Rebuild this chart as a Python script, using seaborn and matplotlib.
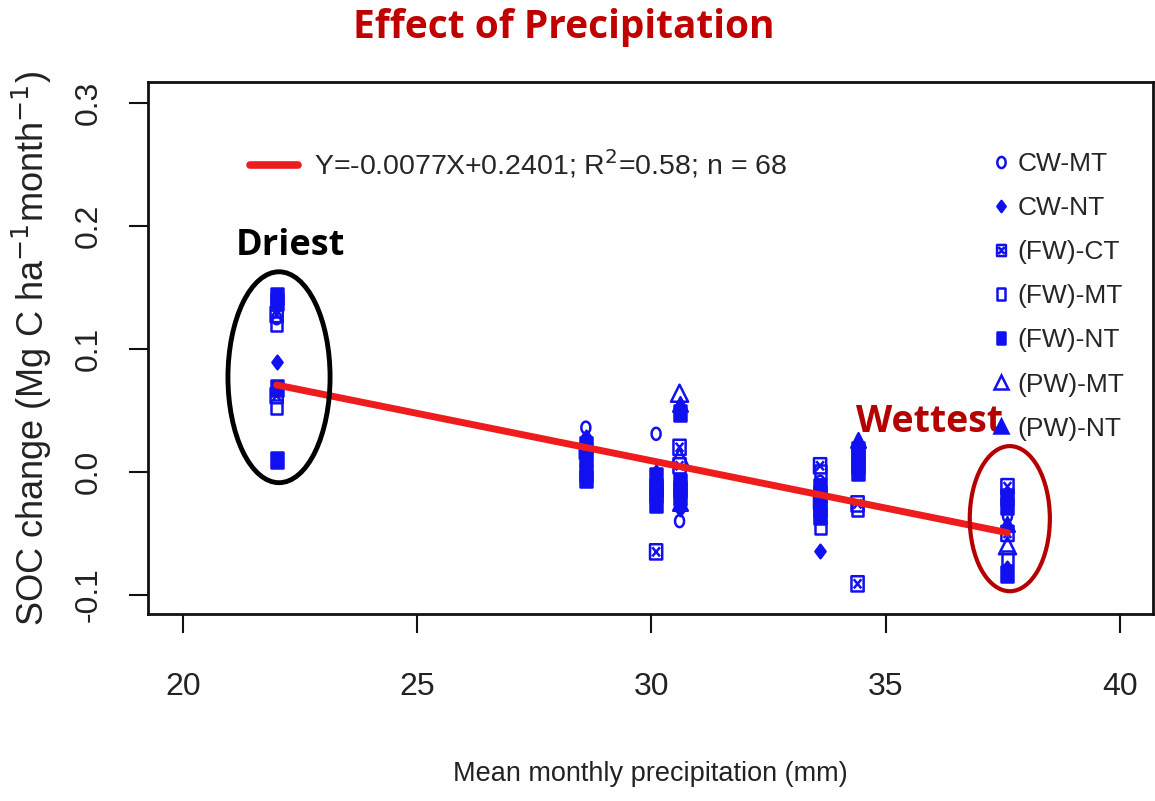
import numpy as np
import pandas as pd
import matplotlib
matplotlib.use("Agg")
import matplotlib.pyplot as plt
from matplotlib.path import Path
from matplotlib.patches import Ellipse
from matplotlib.lines import Line2D
import seaborn as sns

# Mean monthly precipitation (mm) for each observation
precip = [22.0] * 10 + [28.6] * 8 + [30.1] * 10 + [30.6] * 12 + [33.6] * 10 + [34.4] * 8 + [37.6] * 10

# SOC change (Mg C ha-1 month-1)
soc_change = [
    0.143, 0.138, 0.128, 0.120, 0.089, 0.068, 0.062, 0.053, 0.010, 0.125,
    0.036, 0.028, 0.022, 0.017, 0.012, 0.005, -0.001, -0.006,
    0.031, 0.000, -0.003, -0.008, -0.012, -0.018, -0.022, -0.026, -0.015, -0.065,
    0.064, 0.055, 0.048, 0.020, 0.012, -0.008, -0.014, -0.020, -0.025, -0.030, -0.040, 0.005,
    0.005, 0.000, -0.012, -0.018, -0.024, -0.030, -0.036, -0.045, -0.064, -0.008,
    0.026, 0.018, 0.012, 0.006, 0.000, -0.026, -0.030, -0.091,
    -0.012, -0.020, -0.028, -0.036, -0.042, -0.050, -0.060, -0.070, -0.078, -0.083,
]

treatment = [
    "(FW)-NT", "(FW)-NT", "(FW)-CT", "(FW)-MT", "CW-NT", "(FW)-NT", "(FW)-CT", "(FW)-MT", "(FW)-NT", "CW-MT",
    "CW-MT", "CW-NT", "(FW)-NT", "(FW)-CT", "(FW)-NT", "CW-NT", "(FW)-NT", "(FW)-NT",
    "CW-MT", "CW-NT", "(FW)-NT", "CW-NT", "(FW)-NT", "(FW)-NT", "CW-NT", "(FW)-NT", "(FW)-MT", "(FW)-CT",
    "(PW)-MT", "(PW)-NT", "(FW)-NT", "(FW)-CT", "(PW)-MT", "(FW)-NT", "(FW)-NT", "(FW)-NT", "(PW)-NT", "CW-NT", "CW-MT", "(FW)-CT",
    "(FW)-CT", "(FW)-MT", "(FW)-NT", "(FW)-NT", "(FW)-CT", "(FW)-NT", "(FW)-NT", "(FW)-MT", "CW-NT", "CW-MT",
    "(PW)-NT", "(FW)-NT", "(FW)-NT", "(FW)-NT", "(FW)-NT", "(FW)-CT", "(FW)-MT", "(FW)-CT",
    "(FW)-CT", "(FW)-NT", "(FW)-NT", "CW-MT", "(PW)-NT", "(FW)-CT", "(PW)-MT", "(FW)-MT", "CW-NT", "(FW)-NT",
]

treatment_order = ["CW-MT", "CW-NT", "(FW)-CT", "(FW)-MT", "(FW)-NT", "(PW)-MT", "(PW)-NT"]

# Fitted regression reported for the data
slope = -0.0077
intercept = 0.2401
r_squared = 0.58

x_ticks = [20, 25, 30, 35, 40]
y_ticks = [-0.1, 0.0, 0.1, 0.2, 0.3]

df = pd.DataFrame({"precip": precip, "soc": soc_change, "treatment": treatment})

# Boxed-cross marker (square with an X inside), slightly taller than wide
boxed_x = Path(
    [(-0.8, -1), (0.8, -1), (0.8, 1), (-0.8, 1), (-0.8, -1),
     (-0.5, -0.6), (0.5, 0.6), (-0.5, 0.6), (0.5, -0.6)],
    [Path.MOVETO, Path.LINETO, Path.LINETO, Path.LINETO, Path.CLOSEPOLY,
     Path.MOVETO, Path.LINETO, Path.MOVETO, Path.LINETO],
)
tall_square = Path(
    [(-0.8, -1), (0.8, -1), (0.8, 1), (-0.8, 1), (-0.8, -1)],
    [Path.MOVETO, Path.LINETO, Path.LINETO, Path.LINETO, Path.CLOSEPOLY],
)
_t = np.linspace(0, 2 * np.pi, 40)
tall_circle = Path(np.column_stack([0.75 * np.cos(_t), np.sin(_t)]))
tall_diamond = Path([(0, -1), (0.75, 0), (0, 1), (-0.75, 0), (0, -1)],
                    [Path.MOVETO, Path.LINETO, Path.LINETO, Path.LINETO, Path.CLOSEPOLY])

blue = "#1010F0"
marker_styles = {
    "CW-MT": dict(marker=tall_circle, filled=False, s=75),
    "CW-NT": dict(marker=tall_diamond, filled=True, s=95),
    "(FW)-CT": dict(marker=boxed_x, filled=False, s=120),
    "(FW)-MT": dict(marker=tall_square, filled=False, s=100),
    "(FW)-NT": dict(marker=tall_square, filled=True, s=120),
    "(PW)-MT": dict(marker="^", filled=False, s=150),
    "(PW)-NT": dict(marker="^", filled=True, s=110),
}

sns.set_theme(style="ticks")
plt.rcParams["font.family"] = ["Liberation Sans", "DejaVu Sans"]

fig = plt.figure(figsize=(11.55, 8.01), dpi=100)
ax = fig.add_axes([0.128, 0.2335, 0.870, 0.664])

handles = []
for name in treatment_order:
    st = marker_styles[name]
    sub = df[df["treatment"] == name]
    sns.scatterplot(
        data=sub, x="precip", y="soc", ax=ax, marker=st["marker"], s=st["s"],
        facecolor=blue if st["filled"] else "none", edgecolor=blue,
        linewidth=1.8, legend=False, zorder=3,
    )
    handles.append(Line2D([], [], linestyle="none", marker=st["marker"],
                          markersize=8 if st["marker"] != "^" else 10,
                          markerfacecolor=blue if st["filled"] else "none",
                          markeredgecolor=blue, markeredgewidth=1.8, label=name))

# Regression line over the observed precipitation range
x_fit = np.array([min(precip), max(precip)])
fit_df = pd.DataFrame({"precip": x_fit, "soc": slope * x_fit + intercept})
sns.lineplot(data=fit_df, x="precip", y="soc", ax=ax, color="#EE1C1C",
             linewidth=5, zorder=4, legend=False)

ax.set_xlim(19.25, 40.7)
ax.set_ylim(-0.1155, 0.317)
ax.set_xticks(x_ticks)
ax.set_xticklabels([str(t) for t in x_ticks])
ax.set_yticks(y_ticks)
ax.set_yticklabels([f"{t:.1f}" for t in y_ticks], rotation=90, va="center")
ax.tick_params(axis="both", length=14, width=1.5, color="#111111",
               labelsize=23, labelcolor="#222222")
ax.tick_params(axis="x", pad=28)
ax.tick_params(axis="y", pad=18)
for sp in ax.spines.values():
    sp.set_linewidth(2.0)
    sp.set_color("#111111")

ax.set_xlabel("Mean monthly precipitation (mm)", fontsize=19.5, color="#222222", labelpad=42)
ax.set_ylabel("SOC change (Mg C ha$^{-1}$month$^{-1}$)", fontsize=26, color="#222222", labelpad=14)

# Equation legend
eq_label = (f"Y={slope}X+{intercept}; R$^{{2}}$={r_squared}; n = {len(precip)}")
eq_handle = Line2D([], [], color="#EE1C1C", linewidth=5.5)
leg1 = ax.legend([eq_handle], [eq_label], loc="upper left", bbox_to_anchor=(0.076, 0.925),
                 frameon=False, fontsize=20.5, handlelength=1.7, handletextpad=0.55)
ax.add_artist(leg1)

# Treatment legend
ax.legend(handles=handles, loc="upper left", bbox_to_anchor=(0.831, 0.888), frameon=False,
          fontsize=19, handlelength=0.6, handletextpad=0.3, labelspacing=0.76, borderaxespad=0)

# Highlight the driest and wettest sites
ax.add_patch(Ellipse((22.05, 0.077), 2.18, 0.1715, fill=False, edgecolor="black", linewidth=3.5, zorder=5))
ax.add_patch(Ellipse((37.65, -0.038), 1.71, 0.118, fill=False, edgecolor="#B50000", linewidth=3.0, zorder=5))
ax.text(22.3, 0.184, "Driest", fontsize=26, fontweight="bold", color="black",
        family="Open Sans", ha="center", va="center")
ax.text(35.94, 0.041, "Wettest", fontsize=27, fontweight="bold", color="#B50000",
        family="Open Sans", ha="center", va="center")

fig.text(0.488, 0.966, "Effect of Precipitation", fontsize=28, fontweight="bold",
         color="#C00000", family="Open Sans", ha="center", va="center")

fig.savefig("out.png", dpi=100, facecolor="white")
